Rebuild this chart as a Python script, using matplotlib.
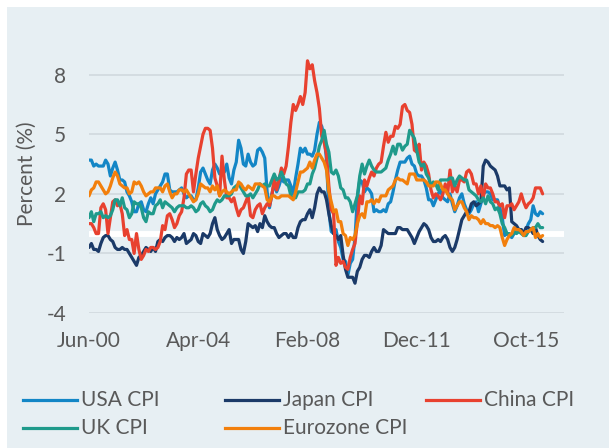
import matplotlib
matplotlib.use("Agg")
import matplotlib.pyplot as plt
from matplotlib.lines import Line2D
from matplotlib.patches import Rectangle
import numpy as np

plt.rcParams['font.family'] = ['Lato', 'DejaVu Sans']

# Monthly YoY CPI, Jun-2000 .. May-2016
usa = [3.7, 3.7, 3.4, 3.5, 3.4, 3.4, 3.4,
       3.7, 3.5, 2.9, 3.3, 3.6, 3.2, 2.7, 2.7, 2.6, 2.1, 1.9, 1.6,
       1.1, 1.1, 1.5, 1.6, 1.2, 1.1, 1.5, 1.8, 1.5, 2.0, 2.2, 2.4,
       2.6, 3.0, 3.0, 2.2, 2.1, 2.1, 2.1, 2.2, 2.3, 2.0, 1.8, 1.9,
       1.9, 1.7, 1.7, 2.3, 3.1, 3.3, 3.0, 2.7, 2.5, 3.2, 3.5, 3.3,
       3.0, 3.0, 3.1, 3.5, 2.8, 2.5, 3.2, 3.6, 4.7, 4.3, 3.5, 3.4,
       4.0, 3.6, 3.4, 3.5, 4.2, 4.3, 4.1, 3.8, 2.1, 1.3, 2.0, 2.5,
       2.1, 2.4, 2.8, 2.6, 2.7, 2.7, 2.4, 2.0, 2.8, 3.5, 4.3, 4.1,
       4.3, 4.0, 4.0, 3.9, 4.2, 5.0, 5.6, 5.4, 4.9, 3.7, 1.1, 0.1,
       0.0, 0.2, -0.4, -0.7, -1.3, -1.4, -2.1, -1.5, -1.3, -0.2, 1.8, 2.7,
       2.6, 2.1, 2.3, 2.2, 2.0, 1.1, 1.2, 1.1, 1.1, 1.2, 1.1, 1.5,
       1.6, 2.1, 2.7, 3.2, 3.6, 3.6, 3.6, 3.8, 3.9, 3.5, 3.4, 3.0,
       2.9, 2.9, 2.7, 2.3, 1.7, 1.7, 1.4, 1.7, 2.0, 2.2, 1.8, 1.7,
       1.6, 2.0, 1.5, 1.1, 1.4, 1.8, 2.0, 1.5, 1.2, 1.0, 1.2, 1.5,
       1.6, 1.1, 1.5, 2.0, 2.1, 2.1, 2.0, 1.7, 1.7, 1.7, 1.3, 0.8,
       -0.1, 0.0, -0.1, -0.2, 0.0, 0.1, 0.2, 0.2, 0.0, 0.2, 0.5, 0.7,
       1.4, 1.0, 0.9, 1.1, 1.0]

japan = [-0.7, -0.5, -0.8, -0.8, -0.9, -0.5, -0.2,
         -0.1, -0.1, -0.3, -0.4, -0.7, -0.8, -0.8, -0.7, -0.8, -0.8, -1.0, -1.2,
         -1.4, -1.6, -1.2, -1.1, -0.9, -0.7, -0.8, -0.9, -0.7, -0.9, -0.4, -0.3,
         -0.4, -0.2, -0.1, -0.1, -0.2, -0.4, -0.2, -0.3, -0.2, 0.0, -0.5, -0.4,
         -0.3, 0.0, -0.1, -0.4, -0.5, 0.0, -0.1, -0.2, 0.0, 0.5, 0.8, 0.2,
         -0.1, -0.3, -0.2, 0.0, 0.2, -0.5, -0.3, -0.3, -0.3, -0.8, -1.0, -0.4,
         0.5, 0.4, 0.3, 0.4, 0.1, 0.5, 0.3, 0.9, 0.6, 0.4, 0.3, 0.3,
         0.0, -0.2, -0.1, 0.0, 0.0, -0.2, 0.0, -0.2, -0.2, 0.3, 0.6, 0.7,
         0.7, 1.0, 1.2, 0.8, 1.3, 2.0, 2.3, 2.1, 2.1, 1.7, 1.0, 0.4,
         0.0, -0.1, -0.3, -0.1, -1.1, -1.8, -2.2, -2.2, -2.2, -2.5, -1.9, -1.7,
         -1.3, -1.1, -1.1, -1.2, -0.9, -0.7, -0.9, -0.9, -0.6, 0.2, 0.1, 0.0,
         0.0, 0.0, 0.0, 0.3, 0.3, 0.2, 0.2, 0.2, 0.0, -0.2, -0.5, -0.2,
         0.1, 0.3, 0.5, 0.4, 0.2, -0.2, -0.4, -0.4, -0.3, -0.4, -0.2, -0.1,
         -0.3, -0.7, -0.9, -0.7, -0.3, 0.2, 0.7, 0.9, 1.1, 1.1, 1.5, 1.6,
         1.4, 1.5, 1.6, 3.4, 3.7, 3.6, 3.4, 3.3, 3.2, 2.9, 2.4, 2.4,
         2.4, 2.2, 2.3, 0.6, 0.5, 0.4, 0.2, 0.2, 0.0, 0.3, 0.3, 0.2,
         0.0, 0.3, -0.1, -0.3, -0.4]

china = [0.5, 0.5, 0.3, 0.0, 0.0, 1.3, 1.5,
         1.2, 0.0, 0.8, 1.6, 1.7, 1.4, 1.5, 1.0, -0.1, 0.2, -0.3, -0.3,
         -1.0, 0.0, -0.8, -1.3, -1.1, -0.8, -0.9, -0.7, -0.7, -0.8, -0.7, -0.4,
         0.4, 0.2, 0.9, 1.0, 0.7, 0.3, 0.5, 0.9, 1.1, 1.8, 3.0, 3.2,
         3.2, 2.1, 3.0, 3.8, 4.4, 5.0, 5.3, 5.3, 5.2, 4.3, 2.8, 2.4,
         1.9, 3.9, 2.7, 1.8, 1.8, 1.6, 1.8, 1.3, 0.9, 1.2, 1.3, 1.6,
         1.9, 0.9, 0.8, 1.2, 1.4, 1.5, 1.0, 1.3, 1.5, 1.4, 1.9, 2.8,
         2.2, 2.7, 3.3, 3.0, 3.4, 4.4, 5.6, 6.5, 6.2, 6.5, 6.9, 6.5,
         7.1, 8.7, 8.3, 8.5, 7.7, 7.1, 6.3, 4.9, 4.6, 4.0, 2.4, 1.2,
         1.0, -1.6, -1.2, -1.5, -1.4, -1.7, -1.8, -1.2, -0.8, -0.5, 0.6, 1.9,
         1.5, 2.7, 2.4, 2.8, 3.1, 2.9, 3.3, 3.5, 3.6, 4.4, 5.1, 4.6,
         4.9, 4.9, 5.4, 5.3, 5.5, 6.4, 6.5, 6.2, 6.1, 5.5, 4.2, 4.1,
         4.5, 3.2, 3.6, 3.4, 3.0, 2.2, 1.8, 2.0, 1.9, 1.7, 2.0, 2.5,
         2.0, 3.2, 2.1, 2.4, 2.1, 2.7, 2.7, 2.6, 3.1, 3.2, 3.0, 2.5,
         2.5, 2.0, 2.4, 1.8, 2.5, 2.3, 2.3, 2.0, 1.6, 1.6, 1.4, 1.5,
         0.8, 1.4, 1.4, 1.5, 1.2, 1.4, 1.6, 2.0, 1.6, 1.3, 1.5, 1.6,
         1.8, 2.3, 2.3, 2.3, 2.0]

uk = [0.8, 1.1, 0.6, 1.0, 1.0, 1.1, 0.8,
      0.9, 0.8, 0.9, 1.2, 1.7, 1.7, 1.4, 1.8, 1.3, 1.2, 0.8, 1.0,
      1.6, 1.5, 1.5, 1.3, 0.8, 0.6, 1.1, 1.0, 1.0, 1.4, 1.5, 1.7,
      1.3, 1.6, 1.5, 1.4, 1.3, 1.1, 1.3, 1.4, 1.4, 1.4, 1.3, 1.3,
      1.4, 1.3, 1.1, 1.2, 1.5, 1.6, 1.4, 1.3, 1.1, 1.2, 1.5, 1.7,
      1.6, 1.7, 1.9, 1.9, 1.9, 2.0, 2.3, 2.4, 2.5, 2.3, 2.1, 1.9,
      1.9, 2.0, 1.8, 2.0, 2.2, 2.5, 2.4, 2.5, 2.4, 2.4, 2.7, 3.0,
      2.7, 2.8, 3.1, 2.8, 2.5, 2.4, 1.9, 1.8, 1.8, 2.1, 2.1, 2.1,
      2.2, 2.5, 2.5, 3.0, 3.3, 3.8, 4.4, 4.7, 5.2, 4.5, 4.1, 3.1,
      3.0, 3.2, 2.9, 2.3, 2.2, 1.8, 1.8, 1.6, 1.1, 1.5, 1.9, 2.9,
      3.5, 3.0, 3.4, 3.7, 3.4, 3.2, 3.1, 3.1, 3.1, 3.2, 3.3, 3.7,
      4.0, 4.4, 4.0, 4.5, 4.5, 4.2, 4.4, 4.5, 5.2, 5.0, 4.8, 4.2,
      3.6, 3.4, 3.5, 3.0, 2.8, 2.4, 2.6, 2.5, 2.2, 2.7, 2.7, 2.7,
      2.7, 2.8, 2.8, 2.4, 2.7, 2.9, 2.8, 2.7, 2.7, 2.2, 2.1, 2.0,
      1.9, 1.7, 1.6, 1.8, 1.5, 1.9, 1.6, 1.5, 1.2, 1.3, 1.0, 0.5,
      0.3, 0.0, 0.0, -0.1, 0.1, 0.0, 0.1, 0.0, -0.1, -0.1, 0.1, 0.2,
      0.3, 0.3, 0.5, 0.3, 0.3]

eurozone = [1.9, 2.2, 2.3, 2.6, 2.6, 2.4, 2.2,
            2.0, 2.1, 2.4, 2.8, 3.1, 2.9, 2.5, 2.4, 2.3, 2.3, 2.0, 2.1,
            2.6, 2.5, 2.6, 2.4, 2.1, 1.9, 2.0, 2.1, 2.1, 2.3, 2.3, 2.3,
            2.1, 2.4, 2.5, 2.1, 1.8, 2.0, 2.0, 2.2, 2.2, 2.1, 2.2, 2.0,
            1.8, 1.6, 1.7, 2.0, 2.5, 2.4, 2.3, 2.3, 2.1, 2.4, 2.2, 2.4,
            1.9, 2.1, 2.2, 2.1, 2.0, 2.1, 2.2, 2.2, 2.6, 2.5, 2.3, 2.2,
            2.4, 2.3, 2.2, 2.5, 2.5, 2.5, 2.4, 2.3, 1.7, 1.6, 1.9, 1.9,
            1.8, 1.8, 1.9, 1.9, 1.9, 1.9, 1.8, 1.7, 2.1, 2.6, 3.1, 3.1,
            3.2, 3.3, 3.6, 3.3, 3.7, 4.0, 4.0, 3.8, 3.6, 3.2, 2.1, 1.6,
            1.1, 1.2, 0.6, 0.6, 0.0, -0.1, -0.6, -0.2, -0.3, -0.1, 0.5, 0.9,
            1.0, 0.8, 1.6, 1.6, 1.7, 1.5, 1.7, 1.6, 1.9, 1.9, 1.9, 2.2,
            2.3, 2.4, 2.7, 2.8, 2.7, 2.7, 2.6, 2.5, 3.0, 3.0, 3.0, 2.7,
            2.7, 2.7, 2.7, 2.6, 2.4, 2.4, 2.4, 2.6, 2.6, 2.5, 2.2, 2.2,
            2.0, 1.8, 1.7, 1.2, 1.4, 1.6, 1.6, 1.3, 1.1, 0.7, 0.9, 0.8,
            0.8, 0.7, 0.5, 0.7, 0.5, 0.5, 0.4, 0.4, 0.3, 0.4, 0.3, -0.2,
            -0.6, -0.3, -0.1, 0.0, 0.3, 0.2, 0.2, 0.1, -0.1, 0.1, 0.1, 0.2,
            0.3, -0.2, 0.0, -0.2, -0.1]

series_names = ["USA CPI", "Japan CPI", "China CPI", "UK CPI", "Eurozone CPI"]
series_colors = ["#1386c6", "#1b3a68", "#e8412f", "#1f9a8b", "#f27f0c"]
x_tick_labels = ["Jun-00", "Apr-04", "Feb-08", "Dec-11", "Oct-15"]
x_tick_months = [0, 46, 92, 138, 184]
y_ticks = [-4, -1, 2, 5, 8]

W, H = 609, 448
fig = plt.figure(figsize=(W / 100, H / 100), dpi=100)
fig.patch.set_facecolor("white")
panel = "#e7eff3"
fig.patches.append(Rectangle((7 / W, 0), 1 - 7 / W, 1 - 7 / H, transform=fig.transFigure,
                             facecolor=panel, edgecolor="none", zorder=-10))

ax = fig.add_axes([89 / W, 1 - 313 / H, (564 - 89) / W, (313 - 35) / H])
ax.set_zorder(5)
ax.set_facecolor("none")
months = np.arange(len(usa))
data = [usa, japan, china, uk, eurozone]

for yv in y_ticks:
    ax.axhline(yv, color="#d3dbe0", lw=1.3, zorder=1)
ax.axhline(0, color="white", lw=4.3, zorder=2)

for i, (vals, name, col) in enumerate(zip(data, series_names, series_colors)):
    ax.plot(months, vals, color=col, lw=2.3, label=name, zorder=3 + i,
            solid_joinstyle="round", solid_capstyle="round")

ax.set_xlim(0, 200)
ax.set_ylim(-4, 10)
ax.set_yticks(y_ticks)
ax.set_yticklabels([str(t) for t in y_ticks])
ax.set_xticks(x_tick_months)
ax.set_xticklabels(x_tick_labels)
txtc = "#595959"
fs = 15
ax.tick_params(axis="both", length=0, labelsize=fs, colors=txtc)
ax.tick_params(axis="y", pad=16.5)
ax.tick_params(axis="x", pad=13)
for s in ax.spines.values():
    s.set_visible(False)
ax.set_ylabel("Percent (%)", fontsize=fs, color=txtc)
ax.yaxis.set_label_coords(-(89 - 37) / (564 - 89), 0.5)

# legend, placed manually
legend_pos = [(23, 400), (225, 400), (426, 400), (23, 428), (225, 428)]
for (lx, ly), name, col in zip(legend_pos, series_names, series_colors):
    fig.add_artist(Line2D([lx / W, (lx + 54) / W], [1 - ly / H, 1 - ly / H],
                          transform=fig.transFigure, color=col, lw=2.3))
    fig.text((lx + 58) / W, 1 - ly / H, name, fontsize=fs, color=txtc,
             va="center", ha="left")

fig.savefig("out.png", dpi=100, facecolor=fig.get_facecolor())
